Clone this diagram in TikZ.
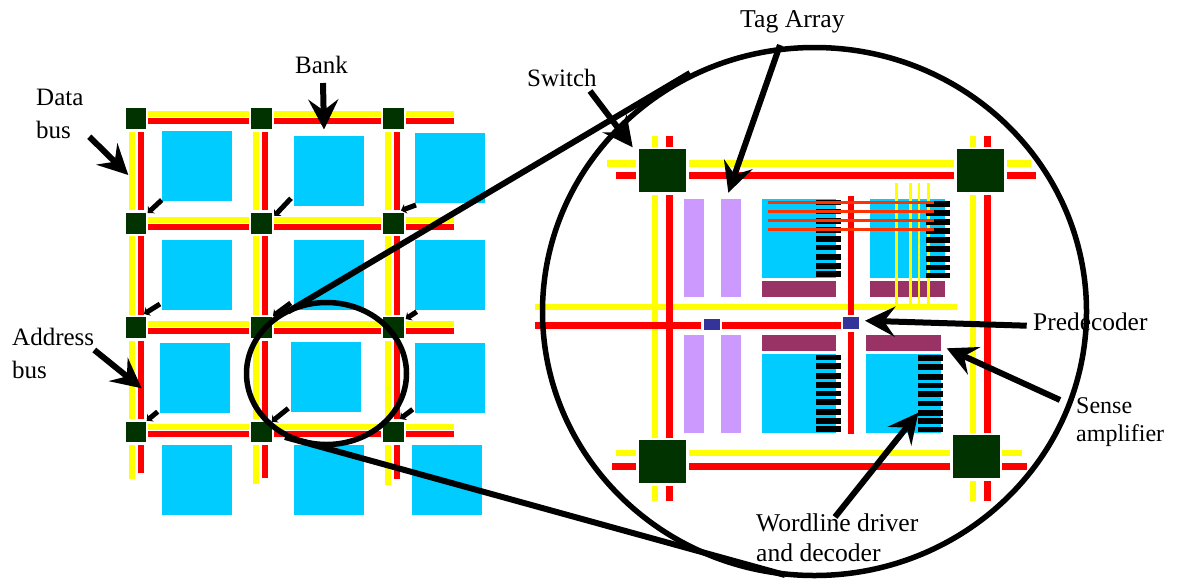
\documentclass[tikz,border=0pt]{standalone}
\usepackage{fontspec}
\setmainfont{Liberation Serif}
\usetikzlibrary{arrows.meta}
\definecolor{busY}{HTML}{FFFF00}
\definecolor{busR}{HTML}{FF0000}
\definecolor{bankC}{HTML}{00CCFF}
\definecolor{swG}{HTML}{003300}
\definecolor{tagP}{HTML}{CC99FF}
\definecolor{senseM}{HTML}{993366}
\definecolor{preB}{HTML}{333399}
\definecolor{lineO}{HTML}{FF3300}
\tikzset{
  ybus/.style={fill=busY},
  rbus/.style={fill=busR},
  bank/.style={fill=bankC},
  sw/.style={fill=swG},
  tagarr/.style={fill=tagP},
  sense/.style={fill=senseM},
  pre/.style={fill=preB},
  drv/.style={fill=black},
  lbl/.style={inner sep=0pt,anchor=base west,align=left,font=\fontsize{25}{33}\selectfont},
  bigarrow/.style={draw=black,line width=6pt,-{Stealth[length=30pt,width=30pt,inset=11pt]}},
  stub/.style={draw=black,line width=5pt,-{Stealth[length=5pt,width=10pt,inset=1.5pt]}},
  zoomline/.style={draw=black,line width=6pt},
  ring/.style={draw=black,line width=5.5pt},
}
\begin{document}
\begin{tikzpicture}[x=1pt,y=-1pt]
\useasboundingbox (0,0) rectangle (1180,579);
% ---------- left grid
\foreach \a/\b in {148.3/249,274/380.7,405.7/454.3}{
  \foreach \y in {110.7,217,321,424}{
    \fill[ybus] (\a,\y) rectangle (\b,\y+6);
    \fill[rbus] (\a,\y+7) rectangle (\b,\y+13);
  }
}
\foreach \xa/\xb/\ya/\yb in {129/138/479/473.3,252.7/262/484/478,384.7/393.7/485/479.3}{
  \foreach \s/\e in {131.7/210,235.7/315,340.7/419}{
    \fill[ybus] (\xa,\s) rectangle (\xa+6,\e);
    \fill[rbus] (\xb,\s) rectangle (\xb+6,\e);
  }
  \fill[ybus] (\xa,444.7) rectangle (\xa+6,\ya);
  \fill[rbus] (\xb,444.7) rectangle (\xb+6,\yb);
}
\foreach \x/\y in {162/131,294/135.7,415/132.5,
                   162/240,294/240,415/240,
                   160.3/343.3,290.7/341.7,415/343,
                   162/444.7,294/445,412/445}{
  \fill[bank] (\x,\y) rectangle (\x+70,\y+70);
}
\foreach \x in {125.7,251,383.3}{
  \foreach \y in {108.3,213,317.3,421.7}{
    \fill[sw] (\x,\y) rectangle (\x+20.5,\y+20.5);
  }
}
% stub arrows bank -> switch
\foreach \n/\xa/\ya/\xb/\yb in {a/161.7/200/147.7/213,b/291/198.3/274.3/216,c/416/205/401/210.5,
                                d/160/304/144/314,e/290.7/303/273/316,f/416.7/311.7/405.7/319,
                                g/157.7/411.7/146.7/420.7,h/288.3/408.3/271.7/421.7,i/412.7/409.3/400/419}{
  \coordinate (stubS\n) at (\xa,\ya);
  \coordinate (stubT\n) at (\xb,\yb);
  \draw[stub] (stubS\n) -- (stubT\n);
}
% ---------- detail: buses
\foreach \x in {651.7,969.7}{
  \fill[ybus] (\x,136) rectangle (\x+6,146.7);
  \fill[rbus] (\x+14.7,136) rectangle (\x+21,146.7);
}
\fill[ybus] (651.7,195) rectangle (657.7,437.7);
\fill[ybus] (651.7,485.7) rectangle (657.7,501.3);
\fill[ybus] (969.7,195) rectangle (975.7,432.7);
\fill[ybus] (969.7,481) rectangle (975.7,501.3);
\fill[ybus] (607.3,160.3) rectangle (636,166.7);
\fill[ybus] (689,160.3) rectangle (954,166.7);
\fill[ybus] (1007,160.3) rectangle (1031.3,166.7);
\fill[ybus] (616,449.7) rectangle (636,456);
\fill[ybus] (689,449.7) rectangle (949.7,456);
\fill[ybus] (1002.3,449.7) rectangle (1022,456);
\fill[ybus] (535,304) rectangle (957,310);
\fill[rbus] (666.3,195) rectangle (672.7,437.7);
\fill[rbus] (666.3,485.7) rectangle (672.7,501.3);
\fill[rbus] (984.3,195) rectangle (990.7,432.7);
\fill[rbus] (984.3,481) rectangle (990.7,501.3);
\fill[rbus] (616,172.3) rectangle (636,178.7);
\fill[rbus] (689,172.3) rectangle (954,178.7);
\fill[rbus] (1007,172.3) rectangle (1036,178.7);
\fill[rbus] (611.7,463) rectangle (636,469.7);
\fill[rbus] (689,463) rectangle (949.7,469.7);
\fill[rbus] (1002.3,463) rectangle (1027,469.7);
\fill[rbus] (535,322) rectangle (701,328.5);
\fill[rbus] (722.3,322) rectangle (840.7,328.5);
\fill[rbus] (848,196) rectangle (854,315);
\fill[rbus] (848,331.7) rectangle (854,434.3);
% tag arrays
\foreach \x in {684.3,720.7}{
  \fill[tagarr] (\x,199.3) rectangle (\x+20,296.7);
  \fill[tagarr] (\x,335.3) rectangle (\x+20,432.7);
}
% banks and sense amps
\fill[bank] (761.7,199.3) rectangle (836,277.7);
\fill[bank] (870.3,199.3) rectangle (945,277.7);
\fill[bank] (761.7,354) rectangle (836,432.7);
\fill[bank] (866,354) rectangle (941,432.7);
\fill[sense] (761.7,281.3) rectangle (836.3,296.7);
\fill[sense] (870.3,281.3) rectangle (945,296.7);
\fill[sense] (761.7,335.3) rectangle (836.3,351);
\fill[sense] (866,335.3) rectangle (940.7,351);
% thin yellow bitlines
\foreach \x in {896.3,910.3,919,928.3}{
  \fill[ybus] (\x-1.3,183.3) rectangle (\x+1.3,304);
}
% wordline drivers
\foreach \y in {202.3,211.3,220.7,230,238.7,247.3,257,266,274}{
  \fill[drv] (816,\y-2.8) rectangle (840.7,\y+2.8);
}
\foreach \y in {204,212.7,222,231,240,249,258.7,267.3,275.3}{
  \fill[drv] (925.7,\y-2.8) rectangle (949.7,\y+2.8);
}
\foreach \y in {357.3,366,376,384.7,393.3,402,412,420.7,428.7}{
  \fill[drv] (816,\y-2.8) rectangle (840.7,\y+2.8);
}
\foreach \y in {358,366.7,376.7,385.3,394,403.3,412.7,420.7,429.3}{
  \fill[drv] (918.3,\y-2.8) rectangle (943,\y+2.8);
}
% orange wordlines
\foreach \y in {202.3,211.3,220.7,229.7}{
  \fill[lineO] (767.7,\y-1.3) rectangle (934,\y+1.3);
}
% predecoders
\fill[pre] (704,319) rectangle (720,330.3);
\fill[pre] (843.3,317.3) rectangle (859.3,328.7);
% big switches
\fill[sw] (638.7,149.3) rectangle (686.3,192.3);
\fill[sw] (957,149.3) rectangle (1004.3,192.3);
\fill[sw] (638.7,440) rectangle (686.3,483);
\fill[sw] (952.7,435.3) rectangle (999.7,478.3);
% ---------- zoom ring
\coordinate (smallC) at (326.5,373.5);
\coordinate (bigC) at (814.5,311.5);
\draw[ring] (smallC) ellipse [x radius=80,y radius=71];
\draw[ring] (bigC) ellipse [x radius=272,y radius=264];
\coordinate (zA) at (288,311.5);
\coordinate (zB) at (690,73);
\coordinate (zC) at (285,437);
\coordinate (zD) at (785,575);
\draw[zoomline] (zA) -- (zB);
\draw[zoomline] (zC) -- (zD);
% ---------- labels
\node[lbl] (lbank) at (295,73) {Bank};
\node[lbl] (ldata) at (36,138) {Data\\bus};
\node[lbl] (laddr) at (12,378) {Address\\bus};
\node[lbl] (lswitch) at (527,86) {Switch};
\node[lbl,font=\fontsize{25.7}{33}\selectfont] (ltag) at (740,27) {Tag Array};
\node[lbl,font=\fontsize{25.4}{33}\selectfont] (lpre) at (1033,330) {Predecoder};
\node[lbl,font=\fontsize{24}{27.5}\selectfont] (lsense) at (1076,441) {Sense\\amplifier};
\node[lbl,font=\fontsize{25.6}{30}\selectfont] (lword) at (756,561) {Wordline driver\\and decoder};
% ---------- pointer arrows
\coordinate (bankS) at (323,83);   \coordinate (bankT) at (324,129.5);
\coordinate (dataS) at (89.3,136.7); \coordinate (dataT) at (128.3,175);
\coordinate (addrS) at (94.3,350); \coordinate (addrT) at (141.7,388.3);
\coordinate (swS) at (590,91);     \coordinate (swT) at (632.7,147.3);
\coordinate (tagS) at (780,45);    \coordinate (tagT) at (728.3,192.7);
\coordinate (preS) at (1026.7,325.7); \coordinate (preT) at (865,320.7);
\coordinate (senS) at (1060,400);  \coordinate (senT) at (946.7,348.3);
\coordinate (worS) at (835,517);   \coordinate (worT) at (918.3,412.7);
\foreach \s/\t in {bankS/bankT,dataS/dataT,addrS/addrT,swS/swT,tagS/tagT,preS/preT,senS/senT,worS/worT}{
  \draw[bigarrow] (\s) -- (\t);
}
\end{tikzpicture}
\end{document}
